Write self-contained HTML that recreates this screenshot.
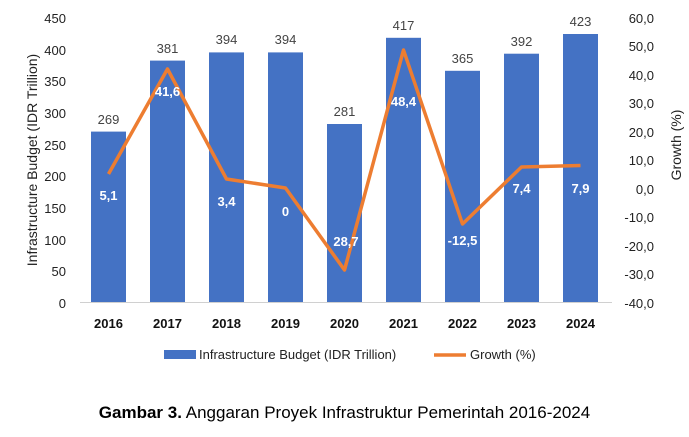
<!DOCTYPE html>
<html><head><style>body{margin:0;background:#fff;}</style></head><body>
<svg width="689" height="432" xmlns="http://www.w3.org/2000/svg" font-family="Liberation Sans, sans-serif">
<rect width="689" height="432" fill="#fff"/>
<g font-size="13" fill="#222" text-anchor="end">
<text x="66" y="23">450</text><text x="66" y="55">400</text><text x="66" y="86">350</text><text x="66" y="118">300</text><text x="66" y="150">250</text><text x="66" y="181">200</text><text x="66" y="213">150</text><text x="66" y="245">100</text><text x="66" y="276">50</text><text x="66" y="308">0</text>
</g>
<g font-size="13" fill="#222" text-anchor="end">
<text x="654" y="23">60,0</text><text x="654" y="51">50,0</text><text x="654" y="80">40,0</text><text x="654" y="108">30,0</text><text x="654" y="137">20,0</text><text x="654" y="165">10,0</text><text x="654" y="194">0,0</text><text x="654" y="222">-10,0</text><text x="654" y="251">-20,0</text><text x="654" y="279">-30,0</text><text x="654" y="308">-40,0</text>
</g>
<text transform="translate(37,160) rotate(-90)" font-size="14" fill="#222" text-anchor="middle">Infrastructure Budget (IDR Trillion)</text>
<text transform="translate(681,145) rotate(-90)" font-size="14" fill="#222" text-anchor="middle">Growth (%)</text>
<g fill="#4472c4">
<rect x="91" y="131.6" width="35" height="170.4"/>
<rect x="150" y="60.6" width="35" height="241.4"/>
<rect x="209" y="52.4" width="35" height="249.6"/>
<rect x="268" y="52.4" width="35" height="249.6"/>
<rect x="327" y="124" width="35" height="178"/>
<rect x="386" y="37.8" width="35" height="264.2"/>
<rect x="445" y="70.8" width="35" height="231.2"/>
<rect x="504" y="53.7" width="35" height="248.3"/>
<rect x="563" y="34" width="35" height="268"/>
</g>
<line x1="80" y1="302.5" x2="612" y2="302.5" stroke="#d0d0d0" stroke-width="1"/>
<g font-size="13" fill="#444" text-anchor="middle">
<text x="108.5" y="124">269</text><text x="167.5" y="53">381</text><text x="226.5" y="44">394</text><text x="285.5" y="44">394</text><text x="344.5" y="116">281</text><text x="403.5" y="30">417</text><text x="462.5" y="63">365</text><text x="521.5" y="46">392</text><text x="580.5" y="26">423</text>
</g>
<polyline points="108.5,174 167.5,69 226.5,179 285.5,188 344.5,270 403.5,50 462.5,224 521.5,167 580.5,165.5" fill="none" stroke="#ed7d31" stroke-width="3.5" stroke-linejoin="round"/>
<g font-size="13" fill="#fff" text-anchor="middle" font-weight="bold">
<text x="108.5" y="200">5,1</text><text x="167.5" y="96">41,6</text><text x="226.5" y="206">3,4</text><text x="285.5" y="216">0</text><text x="346" y="246">28,7</text><text x="403.5" y="106">48,4</text><text x="462.5" y="245">-12,5</text><text x="521.5" y="193">7,4</text><text x="580.5" y="193">7,9</text>
</g>
<g font-size="13" fill="#111" text-anchor="middle" font-weight="bold">
<text x="108.5" y="328">2016</text><text x="167.5" y="328">2017</text><text x="226.5" y="328">2018</text><text x="285.5" y="328">2019</text><text x="344.5" y="328">2020</text><text x="403.5" y="328">2021</text><text x="462.5" y="328">2022</text><text x="521.5" y="328">2023</text><text x="580.5" y="328">2024</text>
</g>
<rect x="164" y="350" width="32" height="9" fill="#4472c4"/>
<text x="199" y="359" font-size="13" fill="#222">Infrastructure Budget (IDR Trillion)</text>
<line x1="434" y1="355" x2="466" y2="355" stroke="#ed7d31" stroke-width="3.5"/>
<text x="470" y="359" font-size="13" fill="#222">Growth (%)</text>
<text x="344.5" y="418" font-size="17" fill="#000" text-anchor="middle"><tspan font-weight="bold">Gambar 3.</tspan> Anggaran Proyek Infrastruktur Pemerintah 2016-2024</text>
</svg>
</body></html>
